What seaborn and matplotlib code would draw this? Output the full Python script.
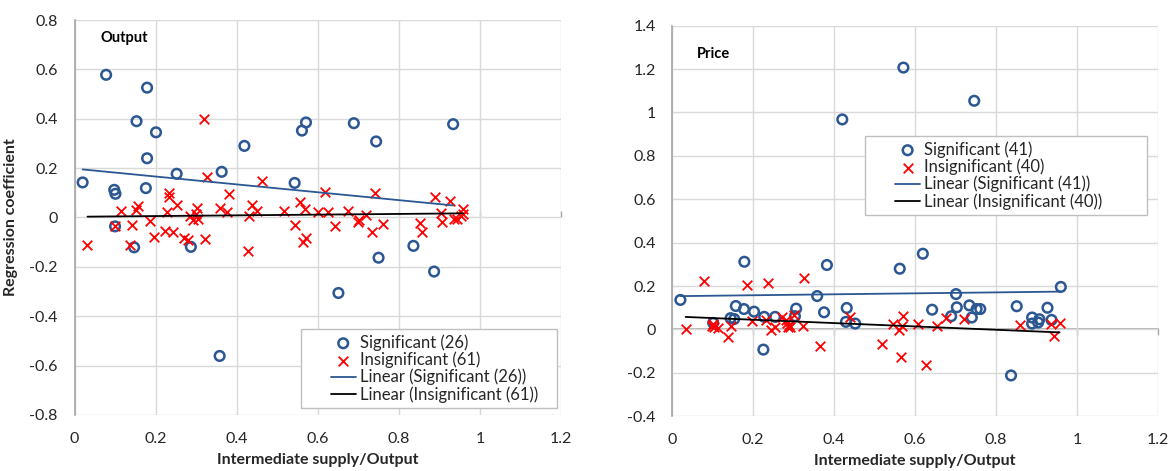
import numpy as np
import pandas as pd
import matplotlib
matplotlib.use("Agg")
import matplotlib.pyplot as plt
from matplotlib.ticker import FuncFormatter, NullFormatter
from matplotlib.lines import Line2D
from matplotlib.collections import PathCollection
from matplotlib.legend_handler import HandlerLine2D, HandlerPathCollection
import seaborn as sns

# ---------------- Output panel ----------------
out_sig_x = [0.078, 0.179, 0.153, 0.201, 0.179, 0.020, 0.098, 0.101, 0.176, 0.252,
             0.363, 0.419, 0.561, 0.571, 0.543, 0.100, 0.689, 0.744, 0.934, 0.147,
             0.287, 0.358, 0.651, 0.750, 0.836, 0.887]
out_sig_y = [0.578, 0.526, 0.390, 0.345, 0.240, 0.142, 0.112, 0.096, 0.119, 0.177,
             0.185, 0.290, 0.352, 0.385, 0.140, -0.036, 0.382, 0.308, 0.378, -0.121,
             -0.119, -0.561, -0.306, -0.163, -0.115, -0.219]
out_ins_x = [0.032, 0.114, 0.101, 0.143, 0.138, 0.151, 0.156, 0.185, 0.197, 0.234,
             0.232, 0.254, 0.227, 0.224, 0.243, 0.270, 0.280, 0.286, 0.293, 0.302,
             0.299, 0.304, 0.319, 0.327, 0.381, 0.360, 0.376, 0.323, 0.463, 0.438,
             0.449, 0.430, 0.428, 0.517, 0.555, 0.568, 0.545, 0.570, 0.564, 0.600,
             0.619, 0.625, 0.643, 0.674, 0.702, 0.699, 0.718, 0.740, 0.734, 0.760,
             0.890, 0.927, 0.904, 0.907, 0.852, 0.857, 0.958, 0.959, 0.935, 0.944,
             0.954]
out_ins_y = [-0.111, 0.026, -0.035, -0.030, -0.113, 0.031, 0.045, -0.015, -0.078, 0.101,
             0.082, 0.050, 0.022, -0.055, -0.057, -0.082, -0.090, 0.004, -0.012, 0.038,
             0.015, -0.008, 0.397, 0.163, 0.096, 0.038, 0.024, -0.089, 0.147, 0.051,
             0.028, 0.007, -0.134, 0.026, 0.061, 0.035, -0.030, -0.082, -0.100, 0.024,
             0.104, 0.022, -0.034, 0.026, -0.012, -0.020, 0.012, 0.098, -0.059, -0.028,
             0.082, 0.065, 0.018, -0.019, -0.023, -0.059, 0.035, 0.015, -0.005, -0.005,
             0.004]

# ---------------- Price panel ----------------
pr_sig_x = [0.420, 0.571, 0.746, 0.020, 0.101, 0.178, 0.157, 0.177, 0.144, 0.153,
            0.202, 0.225, 0.227, 0.254, 0.306, 0.303, 0.382, 0.358, 0.375, 0.431,
            0.429, 0.452, 0.562, 0.619, 0.642, 0.701, 0.703, 0.689, 0.734, 0.740,
            0.752, 0.761, 0.851, 0.960, 0.837, 0.927, 0.889, 0.889, 0.907, 0.904,
            0.937]
pr_sig_y = [0.968, 1.207, 1.054, 0.136, 0.030, 0.312, 0.108, 0.094, 0.052, 0.048,
            0.082, -0.093, 0.058, 0.058, 0.096, 0.061, 0.297, 0.154, 0.079, 0.099,
            0.035, 0.027, 0.280, 0.349, 0.091, 0.163, 0.102, 0.061, 0.111, 0.055,
            0.094, 0.094, 0.107, 0.196, -0.212, 0.100, 0.055, 0.027, 0.047, 0.032,
            0.044]
pr_ins_x = [0.033, 0.078, 0.097, 0.104, 0.100, 0.114, 0.137, 0.145, 0.185, 0.198,
            0.237, 0.232, 0.243, 0.254, 0.270, 0.280, 0.285, 0.291, 0.300, 0.326,
            0.324, 0.364, 0.438, 0.518, 0.546, 0.559, 0.569, 0.567, 0.565, 0.606,
            0.627, 0.654, 0.677, 0.720, 0.858, 0.935, 0.957, 0.942, 0.288, 0.283]
pr_ins_y = [0.001, 0.222, 0.015, 0.010, 0.024, 0.006, -0.034, 0.015, 0.206, 0.038,
            0.216, 0.045, -0.004, 0.009, 0.056, 0.042, 0.010, 0.012, 0.066, 0.238,
            0.015, -0.077, 0.059, -0.065, 0.027, -0.004, 0.061, 0.015, -0.126, 0.027,
            -0.163, 0.015, 0.053, 0.050, 0.022, 0.027, 0.032, -0.031, 0.020, 0.030]

panel_titles = ["Output", "Price"]
x_label = "Intermediate supply/Output"
y_label = "Regression coefficient"
x_ticks = [0, 0.2, 0.4, 0.6, 0.8, 1.0, 1.2]
out_y_ticks = [-0.8, -0.6, -0.4, -0.2, 0, 0.2, 0.4, 0.6, 0.8]
pr_y_ticks = [-0.4, -0.2, 0, 0.2, 0.4, 0.6, 0.8, 1.0, 1.2, 1.4]

BLUE = "#2B5792"
RED = "#FF0000"
GRID = "#D9D9D9"
AXC = "#A6A6A6"
TXT = "#262626"

sns.set_style("white")
plt.rcParams["font.family"] = ["Lato", "DejaVu Sans"]

fig = plt.figure(figsize=(11.68, 4.71), dpi=100)
ax1 = fig.add_axes([0.0638, 0.119, 0.4165, 0.8385])
ax2 = fig.add_axes([0.5756, 0.1163, 0.4158, 0.8291])

fmt = FuncFormatter(lambda v, p: f"{round(v, 2):g}" if abs(v) > 1e-9 else "0")

# legend handles drawn in the right half of the handle box (Excel-like look)
SEG = 0.5


def _right_xdata(self, legend, xdescent, ydescent, width, height, fontsize):
    x1 = -xdescent + width
    x0 = x1 - width * SEG
    return np.array([x0, x1]), np.array([(x0 + x1) / 2])


class RightLine(HandlerLine2D):
    get_xdata = _right_xdata


class RightScatter(HandlerPathCollection):
    get_xdata = _right_xdata


def draw(ax, sx, sy, ix, iy, title, yticks, n_sig, n_ins, ylim, leg_loc, leg_box, title_xy):
    sig = pd.DataFrame({"x": sx, "y": sy})
    ins = pd.DataFrame({"x": ix, "y": iy})
    sns.scatterplot(data=sig, x="x", y="y", ax=ax, marker="o", s=48,
                    facecolor="none", edgecolor=BLUE, linewidth=1.8,
                    label=f"Significant ({n_sig})", zorder=3)
    sns.scatterplot(data=ins, x="x", y="y", ax=ax, marker="x", s=48,
                    color=RED, linewidth=1.3,
                    label=f"Insignificant ({n_ins})", zorder=3)
    sns.regplot(data=sig, x="x", y="y", ax=ax, scatter=False, ci=None,
                label=f"Linear (Significant ({n_sig}))",
                line_kws=dict(color=BLUE, lw=1.3, zorder=4))
    sns.regplot(data=ins, x="x", y="y", ax=ax, scatter=False, ci=None,
                label=f"Linear (Insignificant ({n_ins}))",
                line_kws=dict(color="black", lw=1.3, zorder=4))
    ax.set_xlim(0, 1.2)
    ax.set_ylim(*ylim)
    ax.set_xticks(x_ticks)
    ax.set_yticks(yticks)
    ax.xaxis.set_major_formatter(fmt)
    ax.yaxis.set_major_formatter(fmt)
    ax.grid(True, color=GRID, lw=1.0, zorder=0)
    ax.set_axisbelow(True)
    for s in ["top", "right", "bottom"]:
        ax.spines[s].set_visible(False)
    ax.spines["left"].set_color(AXC)
    ax.spines["left"].set_linewidth(1.2)
    ax.tick_params(axis="y", length=4, width=1.0, color=AXC, pad=8,
                   labelsize=11.5, labelcolor=TXT, direction="out")
    ax.tick_params(axis="x", length=0, pad=12, labelsize=11.5, labelcolor=TXT)
    # horizontal axis line crossing at y = 0 with tick marks
    frac0 = (0 - ylim[0]) / (ylim[1] - ylim[0])
    sec = ax.secondary_xaxis(frac0)
    sec.set_xticks(x_ticks)
    sec.xaxis.set_major_formatter(NullFormatter())
    sec.tick_params(axis="x", length=4, width=1.0, color=AXC, direction="out")
    sec.spines["bottom"].set_color(AXC)
    sec.spines["bottom"].set_linewidth(1.2)
    sec.spines["top"].set_visible(False)
    sec.set_xlabel("")
    ax.set_xlabel(x_label, fontsize=11.5, fontweight="bold", color=TXT, labelpad=5)
    ax.set_ylabel("")
    ax.text(title_xy[0], title_xy[1], title, fontsize=10.5, fontweight="bold",
            color="black", va="center", ha="left")
    leg = ax.legend(loc=leg_loc, bbox_to_anchor=leg_box, mode="expand", frameon=True,
                    fancybox=False, framealpha=1, edgecolor="#BFBFBF",
                    fontsize=12, handlelength=3.0, handletextpad=0.25,
                    labelspacing=0.05, borderpad=0.3, borderaxespad=0,
                    handler_map={Line2D: RightLine(), PathCollection: RightScatter()})
    leg.get_frame().set_linewidth(1.0)
    for t in leg.get_texts():
        t.set_color(TXT)


draw(ax1, out_sig_x, out_sig_y, out_ins_x, out_ins_y, panel_titles[0], out_y_ticks,
     26, 61, (-0.8, 0.8), "lower left", (0.465, 0.018, 0.526, 0.2), (0.065, 0.726))
draw(ax2, pr_sig_x, pr_sig_y, pr_ins_x, pr_ins_y, panel_titles[1], pr_y_ticks,
     41, 40, (-0.4, 1.4), "upper left", (0.397, 0.5175, 0.58, 0.2), (0.06, 1.271))

ax1.set_ylabel(y_label, fontsize=11.5, fontweight="bold", color=TXT, labelpad=8)

fig.savefig("out.png", dpi=100)
